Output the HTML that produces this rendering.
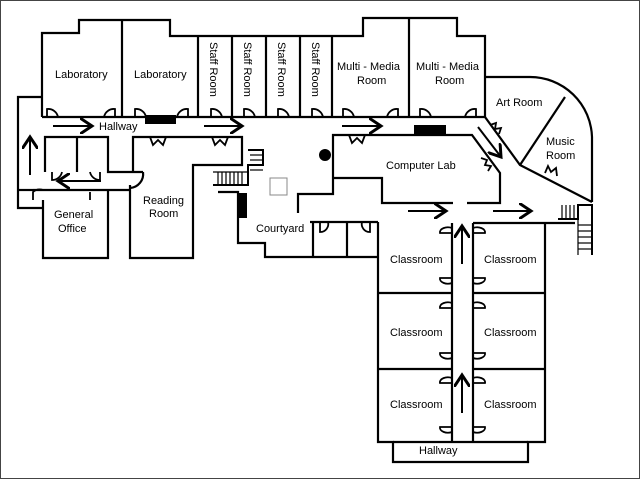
<!DOCTYPE html>
<html><head><meta charset="utf-8"><style>
html,body{margin:0;padding:0;background:#fff}
svg{display:block}
text{font-family:"Liberation Sans",sans-serif;font-size:11px;fill:#000}
</style></head><body>
<svg width="640" height="479" viewBox="0 0 640 479" xmlns="http://www.w3.org/2000/svg">
<rect x="0.5" y="0.5" width="639" height="478" fill="#fff" stroke="#444" stroke-width="1"/>
<defs><marker id="a" markerWidth="8" markerHeight="8" refX="6" refY="4" orient="auto"><path d="M0,0 L6,4 L0,8" fill="none" stroke="#000" stroke-width="1.5"/></marker></defs>
<g fill="none" stroke="#000" stroke-width="2.2">
<!-- top outer -->
<polyline points="42,117 42,33 79,33 79,20 170,20 170,36 363,36 363,18 457,18 457,36 485,36 485,117"/>
<line x1="122" y1="20" x2="122" y2="117"/>
<line x1="198" y1="36" x2="198" y2="117"/><line x1="232" y1="36" x2="232" y2="117"/>
<line x1="266" y1="36" x2="266" y2="117"/><line x1="300" y1="36" x2="300" y2="117"/>
<line x1="332" y1="36" x2="332" y2="117"/><line x1="409" y1="18" x2="409" y2="117"/>
<line x1="42" y1="117" x2="485" y2="117"/>
<!-- left -->
<polyline points="42,97 18,97 18,208 43,208"/>
<line x1="18" y1="190" x2="33" y2="190"/>
<polyline points="43,200 43,258 108,258 108,190"/>
<line x1="33" y1="190" x2="130" y2="190"/>
<polyline points="45,172 45,137 108,137 108,172 143,172"/>
<line x1="77" y1="137" x2="77" y2="172"/>
<path d="M143,172 A14 14 0 0 1 130,188"/>
<polyline points="130,185 130,258 193,258 193,165 242,165 242,137 133,137 133,172"/>
<!-- courtyard -->
<polyline points="218,192 238,192 238,243 265,243 265,257 378,257"/>
<polyline points="298,213 298,194 333,194 333,135 472,135 500,173 500,203 467,203"/>
<polyline points="333,178 382,178 382,203 453,203"/>
<line x1="310" y1="222" x2="378" y2="222"/>
<line x1="313" y1="222" x2="313" y2="257"/><line x1="347" y1="222" x2="347" y2="257"/>
<!-- art/music -->
<polyline points="485,77 530,77"/>
<path d="M530,77 A62 62 0 0 1 592,137 L592,202"/>
<line x1="565" y1="97" x2="520" y2="165"/>
<polyline points="485,117 520,165 592,202"/>
<!-- classrooms -->
<polyline points="473,223 575,223"/>
<polyline points="378,222 378,442 393,442 393,462 528,462 528,442 545,442 545,223"/>
<line x1="452" y1="223" x2="452" y2="442"/><line x1="473" y1="223" x2="473" y2="442"/>
<line x1="378" y1="293" x2="452" y2="293"/><line x1="473" y1="293" x2="545" y2="293"/>
<line x1="378" y1="369" x2="452" y2="369"/><line x1="473" y1="369" x2="545" y2="369"/>
<line x1="393" y1="442" x2="528" y2="442"/>
<!-- doors -->
<g stroke-width="1.8">
<path d="M47,117 v-8 a10 10 0 0 1 11 8"/><path d="M115,117 v-8 a10 10 0 0 0 -11 8"/>
<path d="M135,117 v-8 a10 10 0 0 1 11 8"/><path d="M188,117 v-8 a10 10 0 0 0 -11 8"/>
<path d="M211,117 v-8 a10 10 0 0 1 11 8"/><path d="M244,117 v-8 a10 10 0 0 1 11 8"/>
<path d="M278,117 v-8 a10 10 0 0 1 11 8"/><path d="M312,117 v-8 a10 10 0 0 1 11 8"/>
<path d="M343,117 v-8 a10 10 0 0 1 11 8"/><path d="M398,117 v-8 a10 10 0 0 0 -11 8"/>
<path d="M420,117 v-8 a10 10 0 0 1 11 8"/><path d="M476,117 v-8 a10 10 0 0 0 -11 8"/>
<path d="M150,137 l3,8 l5,-5 l5,5 l3,-8"/><path d="M212,137 l3,8 l5,-5 l5,5 l3,-8"/>
<path d="M349,135 l3,8 l5,-5 l5,5 l3,-8"/>
<path d="M52,172 v8 a10 10 0 0 0 10 -8"/><path d="M100,172 v8 a10 10 0 0 1 -10 -8"/>
<path d="M33,200 v-8 a10 10 0 0 1 10 -2"/><path d="M90,200 v-8"/>
<path d="M320,222 v10 a8 8 0 0 0 8 -10"/><path d="M370,222 v10 a8 8 0 0 1 -8 -10"/>
<path d="M452,228 a8 5 0 0 0 -12 5 h12"/><path d="M473,228 a8 5 0 0 1 12 5 h-12"/>
<path d="M452,283 a8 5 0 0 1 -12 -5 h12"/><path d="M473,283 a8 5 0 0 0 12 -5 h-12"/>
<path d="M452,303 a8 5 0 0 0 -12 5 h12"/><path d="M473,303 a8 5 0 0 1 12 5 h-12"/>
<path d="M452,358 a8 5 0 0 1 -12 -5 h12"/><path d="M473,358 a8 5 0 0 0 12 -5 h-12"/>
<path d="M452,378 a8 5 0 0 0 -12 5 h12"/><path d="M473,378 a8 5 0 0 1 12 5 h-12"/>
<path d="M452,432 a8 5 0 0 1 -12 -5 h12"/><path d="M473,432 a8 5 0 0 0 12 -5 h-12"/>
<path d="M490,125 l6,-2 l-1,6 l6,-1 l-2,6"/><path d="M481,158 l6,2 l-2,5 l6,1 l-3,5"/>
<path d="M545,173 l3,-7 l3,6 l5,-4 l1,8"/>
</g>
</g>
<!-- stairs -->
<g stroke="#000" stroke-width="1.2" fill="none">
<polyline points="213,185 248,185 248,165 263,165 263,150 248,150" stroke-width="2"/>
<line x1="218" y1="172" x2="218" y2="185"/><line x1="222" y1="172" x2="222" y2="185"/><line x1="226" y1="172" x2="226" y2="185"/><line x1="230" y1="172" x2="230" y2="185"/><line x1="234" y1="172" x2="234" y2="185"/><line x1="238" y1="172" x2="238" y2="185"/><line x1="242" y1="172" x2="242" y2="185"/>
<line x1="213" y1="172" x2="248" y2="172"/>
<line x1="250" y1="155" x2="263" y2="155"/><line x1="250" y1="160" x2="263" y2="160"/><line x1="248" y1="165" x2="263" y2="165"/>
<line x1="250" y1="170" x2="263" y2="170"/>
<polyline points="558,219 578,219 578,205 592,205 592,255" stroke-width="2"/>
<line x1="562" y1="205" x2="562" y2="219"/><line x1="566" y1="205" x2="566" y2="219"/><line x1="570" y1="205" x2="570" y2="219"/><line x1="574" y1="205" x2="574" y2="219"/>
<line x1="578" y1="225" x2="592" y2="225"/><line x1="578" y1="231" x2="592" y2="231"/><line x1="578" y1="237" x2="592" y2="237"/><line x1="578" y1="243" x2="592" y2="243"/><line x1="578" y1="249" x2="592" y2="249"/>
<line x1="578" y1="219" x2="578" y2="255"/>
</g>
<rect x="145" y="115" width="31" height="9" fill="#000"/>
<rect x="414" y="125" width="32" height="10" fill="#000"/>
<rect x="237" y="193" width="10" height="25" fill="#000"/>
<circle cx="325" cy="155" r="6" fill="#000"/>
<rect x="270" y="178" width="17" height="17" fill="none" stroke="#888" stroke-width="1"/>
<!-- arrows -->
<g stroke="#000" stroke-width="2" marker-end="url(#a)">
<line x1="53" y1="126" x2="92" y2="126"/><line x1="204" y1="126" x2="242" y2="126"/>
<line x1="342" y1="126" x2="381" y2="126"/><line x1="30" y1="175" x2="30" y2="137"/>
<line x1="101" y1="181" x2="58" y2="181"/><line x1="408" y1="211" x2="446" y2="211"/>
<line x1="493" y1="211" x2="531" y2="211"/><line x1="462" y1="264" x2="462" y2="226"/>
<line x1="462" y1="413" x2="462" y2="375"/><line x1="478" y1="127" x2="501" y2="157"/>
</g>
<text x="55" y="78">Laboratory</text><text x="134" y="78">Laboratory</text>
<text x="99" y="130">Hallway</text>
<text x="419" y="454">Hallway</text>
<g font-size="11"><text transform="translate(210,42) rotate(90)">Staff Room</text>
<text transform="translate(244,42) rotate(90)">Staff Room</text>
<text transform="translate(278,42) rotate(90)">Staff Room</text>
<text transform="translate(312,42) rotate(90)">Staff Room</text></g>
<text x="337" y="70">Multi - Media</text><text x="357" y="84">Room</text>
<text x="416" y="70">Multi - Media</text><text x="435" y="84">Room</text>
<text x="496" y="106">Art Room</text>
<text x="546" y="145">Music</text><text x="546" y="159">Room</text>
<text x="386" y="169">Computer Lab</text>
<text x="143" y="204">Reading</text><text x="149" y="217">Room</text>
<text x="54" y="218">General</text><text x="58" y="232">Office</text>
<text x="256" y="232">Courtyard</text>
<text x="390" y="263">Classroom</text><text x="484" y="263">Classroom</text>
<text x="390" y="336">Classroom</text><text x="484" y="336">Classroom</text>
<text x="390" y="408">Classroom</text><text x="484" y="408">Classroom</text>
</svg>
</body></html>
